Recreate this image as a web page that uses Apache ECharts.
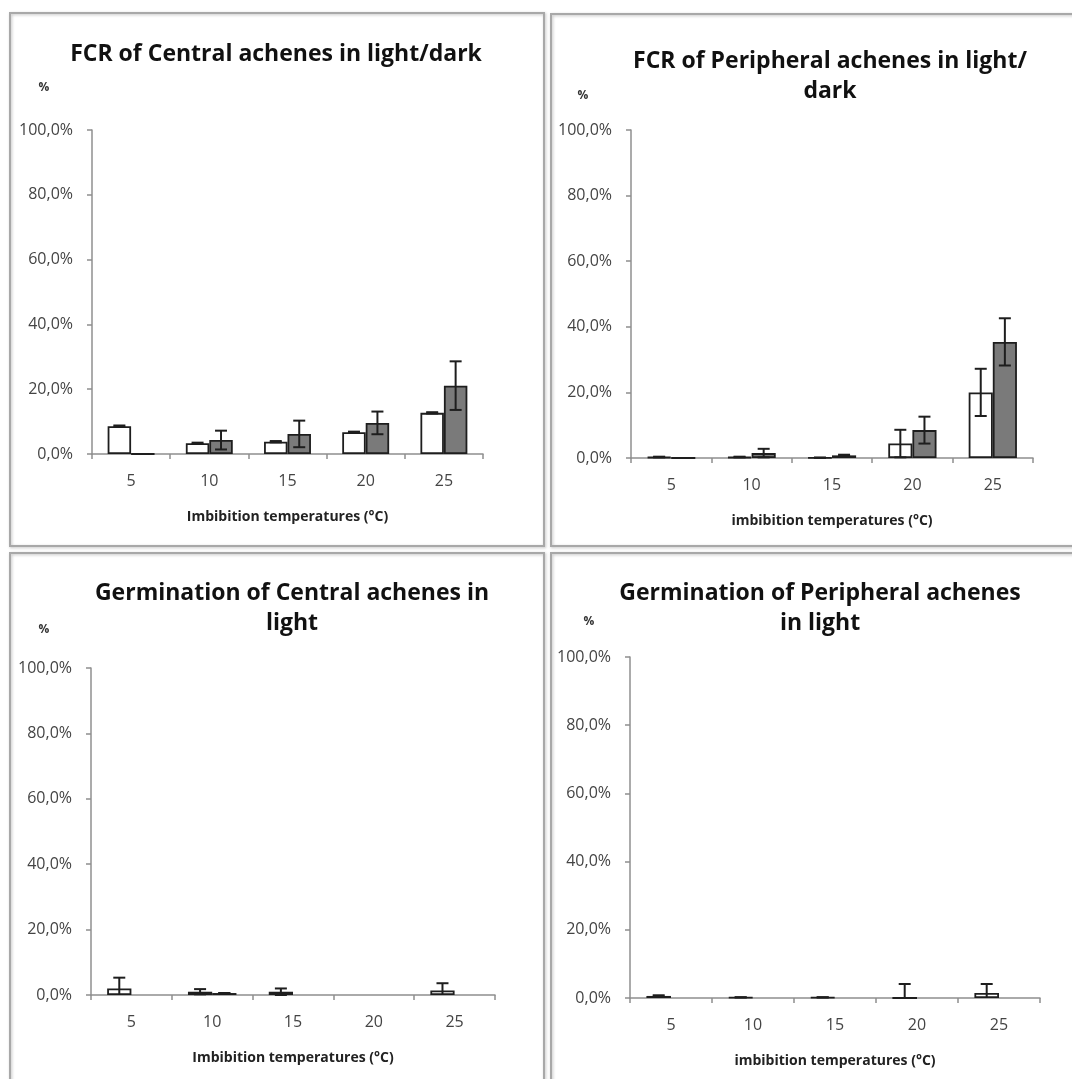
<!DOCTYPE html>
<html><head><meta charset="utf-8">
<script src="https://cdn.jsdelivr.net/npm/echarts@6/dist/echarts.min.js"></script>
<style>html,body{margin:0;padding:0;background:#fff}#c{width:1072px;height:1079px}</style>
</head><body><div id="c"></div>
<script>
// ---- data ----
const categories = ['5', '10', '15', '20', '25'];
const yTickValues = [0, 20, 40, 60, 80, 100];

const fcrCentralLight = [8.6, 3.3, 3.8, 6.7, 12.7];
const fcrCentralLightErr = [0.2, 0.2, 0.2, 0.2, 0.2];
const fcrCentralDark = [0, 4.3, 6.2, 9.6, 21.1];
const fcrCentralDarkErr = [0, 2.9, 4.1, 3.5, 7.5];

const fcrPeripheralLight = [0.3, 0.3, 0.1, 4.4, 20.0];
const fcrPeripheralLightErr = [0.1, 0.1, 0, 4.2, 7.2];
const fcrPeripheralDark = [0, 1.5, 0.8, 8.5, 35.4];
const fcrPeripheralDarkErr = [null, 1.3, 0.2, 4.1, 7.2];

const germCentralLight = [2.0, 1.0, 1.0, null, 1.4];
const germCentralLightErr = [3.3, 0.8, 1.0, null, 2.2];
const germCentralDark = [null, 0.6, null, null, null];
const germCentralDarkErr = [null, 0, null, null, null];

const germPeripheralLight = [0.6, 0.2, 0.2, 0, 1.5];
const germPeripheralLightErr = [0.2, 0, 0, 4.1, 2.6];
const germPeripheralDark = [null, null, null, null, null];
const germPeripheralDarkErr = [null, null, null, null, null];

const titles = [
  'FCR of Central achenes in light/dark',
  'FCR of Peripheral achenes in light/\ndark',
  'Germination of Central achenes in\nlight',
  'Germination of Peripheral achenes\nin light'
];
const xNames = [
  'Imbibition temperatures (°C)',
  'imbibition temperatures (°C)',
  'Imbibition temperatures (°C)',
  'imbibition temperatures (°C)'
];
const yUnit = '%';

// ---- layout (styles) ----
const grids = [
  {left: 92, top: 130, width: 391, height: 324},
  {left: 631, top: 130, width: 402, height: 328},
  {left: 91, top: 668, width: 404, height: 327},
  {left: 630, top: 657, width: 410, height: 341}
];
const panels = [
  {x: 10, y: 13, w: 534, h: 533},
  {x: 551, y: 14, w: 530, h: 532},
  {x: 10, y: 553, w: 534, h: 540},
  {x: 551, y: 553, w: 530, h: 540}
];
const titlePos = [
  {x: 276, y: 54},
  {x: 830, y: 76},
  {x: 292, y: 608},
  {x: 820, y: 608}
];
const unitPos = [{x: 44, y: 88}, {x: 583, y: 96}, {x: 44, y: 630}, {x: 589, y: 622}];

const FONT = '"Open Sans", "Liberation Sans", sans-serif';
const AXIS_COLOR = '#8f8f8f';
const EDGE = '#1e1e1e';

const lightSets = [fcrCentralLight, fcrPeripheralLight, germCentralLight, germPeripheralLight];
const lightErrs = [fcrCentralLightErr, fcrPeripheralLightErr, germCentralLightErr, germPeripheralLightErr];
const darkSets = [fcrCentralDark, fcrPeripheralDark, germCentralDark, germPeripheralDark];
const darkErrs = [fcrCentralDarkErr, fcrPeripheralDarkErr, germCentralDarkErr, germPeripheralDarkErr];

function errSeries(idx, vals, errs, side) {
  const data = [];
  vals.forEach((v, i) => { if (v != null && errs[i] != null) data.push([i, v, errs[i]]); });
  return {
    type: 'custom', xAxisIndex: idx, yAxisIndex: idx, z: 10, silent: true,
    data: data,
    renderItem: function (params, api) {
      const i = api.value(0), v = api.value(1), e = api.value(2);
      const w = api.size([1, 0])[0];
      const dx = side * w * 0.15;
      const hi = api.coord([i, v + e]);
      const loV = v - e;
      const lo = api.coord([i, Math.max(loV, 0)]);
      const x = hi[0] + dx, cap = 6;
      const st = {stroke: EDGE, lineWidth: 2};
      const ch = [
        {type: 'line', shape: {x1: x, y1: hi[1], x2: x, y2: lo[1]}, style: st},
        {type: 'line', shape: {x1: x - cap, y1: hi[1], x2: x + cap, y2: hi[1]}, style: st}
      ];
      if (loV >= 0) ch.push({type: 'line', shape: {x1: x - cap, y1: lo[1], x2: x + cap, y2: lo[1]}, style: st});
      return {type: 'group', children: ch};
    }
  };
}

const option = {
  animation: false,
  backgroundColor: '#fff',
  grid: grids.map(g => Object.assign({containLabel: false}, g)),
  xAxis: grids.map((g, k) => ({
    type: 'category', gridIndex: k, data: categories,
    name: xNames[k], nameLocation: 'middle', nameGap: 56,
    nameTextStyle: {fontFamily: FONT, fontWeight: 'bold', fontSize: 14, color: '#222'},
    axisLine: {lineStyle: {color: AXIS_COLOR, width: 1.5}},
    axisTick: {show: true, length: 5, lineStyle: {color: AXIS_COLOR, width: 1.5}},
    axisLabel: {fontFamily: FONT, fontSize: 16, color: '#444', margin: 19}
  })),
  yAxis: grids.map((g, k) => ({
    type: 'value', gridIndex: k, min: yTickValues[0], max: yTickValues[yTickValues.length - 1], interval: 20,
    splitLine: {show: false},
    axisLine: {show: true, lineStyle: {color: AXIS_COLOR, width: 1.5}},
    axisTick: {show: true, length: 5, lineStyle: {color: AXIS_COLOR, width: 1.5}},
    axisLabel: {fontFamily: FONT, fontSize: 16, color: '#444', margin: 19,
      formatter: v => v.toFixed(1).replace('.', ',') + '%'}
  })),
  graphic: [].concat(
    panels.map(p => ({type: 'rect', shape: {x: p.x, y: p.y, width: p.w, height: p.h},
      style: {fill: 'none', stroke: '#a8a8a8', lineWidth: 2, shadowBlur: 3, shadowColor: 'rgba(0,0,0,0.25)', shadowOffsetX: 1, shadowOffsetY: 1}, z: -1})),
    titles.map((t, k) => ({type: 'text', x: titlePos[k].x, y: titlePos[k].y,
      style: {text: t, align: 'center', verticalAlign: 'middle', fontFamily: FONT, fontWeight: 'bold', fontSize: 23, lineHeight: 30, fill: '#111'}})),
    unitPos.map(u => ({type: 'text', x: u.x, y: u.y,
      style: {text: yUnit, align: 'center', verticalAlign: 'middle', fontFamily: FONT, fontWeight: 'bold', fontSize: 12, fill: '#333'}}))
  ),
  series: [].concat(...grids.map((g, k) => [
    {type: 'bar', xAxisIndex: k, yAxisIndex: k, data: lightSets[k], barWidth: '30%', barGap: '0%',
      itemStyle: {color: '#ffffff', borderColor: EDGE, borderWidth: 1.8}},
    {type: 'bar', xAxisIndex: k, yAxisIndex: k, data: darkSets[k], barWidth: '30%', barGap: '0%',
      itemStyle: {color: '#7a7a7a', borderColor: EDGE, borderWidth: 1.8}},
    errSeries(k, lightSets[k], lightErrs[k], -1),
    errSeries(k, darkSets[k], darkErrs[k], 1)
  ]))
};
echarts.init(document.getElementById('c')).setOption(option);
</script></body></html>
